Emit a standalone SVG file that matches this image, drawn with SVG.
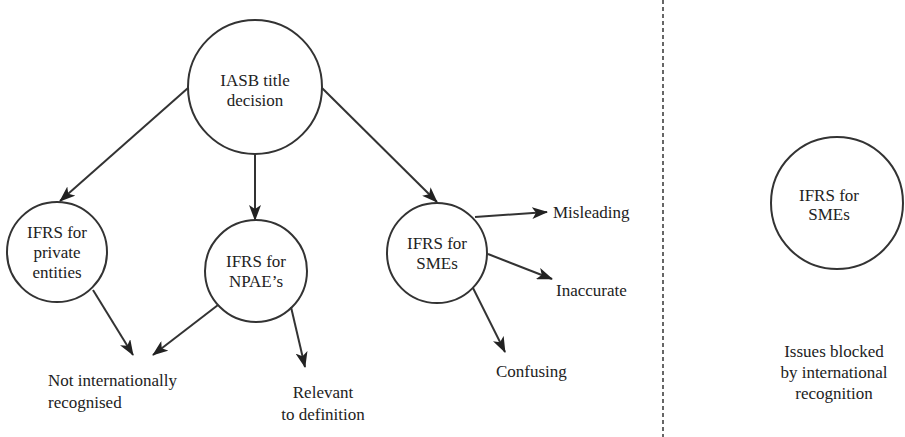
<svg xmlns="http://www.w3.org/2000/svg" width="905" height="437" viewBox="0 0 905 437">
<defs>
<style>
.n{fill:none;stroke:#333;stroke-width:2}
.t{font-family:'Liberation Serif','DejaVu Serif',serif;font-size:17px;fill:#222}
.c{stroke:#333;stroke-width:2;fill:none}
</style>
<marker id="ah" viewBox="0 0 16 12" refX="15" refY="6" markerWidth="16" markerHeight="12" markerUnits="userSpaceOnUse" orient="auto">
<path d="M0,0 L16,6 L0,12 L4,6 z" fill="#222"/>
</marker>
</defs>
<rect width="905" height="437" fill="#fff"/>
<g id="connectors">
<line class="c" x1="188" y1="88" x2="60" y2="201" marker-end="url(#ah)"/>
<line class="c" x1="255" y1="154" x2="255" y2="220" marker-end="url(#ah)"/>
<line class="c" x1="322" y1="88" x2="437" y2="202" marker-end="url(#ah)"/>
<line class="c" x1="93" y1="290" x2="133" y2="355" marker-end="url(#ah)"/>
<line class="c" x1="218" y1="305" x2="153" y2="355" marker-end="url(#ah)"/>
<line class="c" x1="291" y1="307" x2="305" y2="367" marker-end="url(#ah)"/>
<line class="c" x1="475" y1="217" x2="547" y2="212" marker-end="url(#ah)"/>
<line class="c" x1="488" y1="254" x2="552" y2="279" marker-end="url(#ah)"/>
<line class="c" x1="473" y1="288" x2="505" y2="352" marker-end="url(#ah)"/>
<line x1="663" y1="0" x2="663" y2="437" stroke="#666" stroke-width="2" stroke-dasharray="4,3"/>
</g>
<g id="iasb">
<circle class="n" cx="255" cy="87" r="67"/>
<text class="t" text-anchor="middle"><tspan x="255" y="86">IASB title</tspan><tspan x="255" y="106">decision</tspan></text>
</g>
<g id="private">
<circle class="n" cx="57" cy="252" r="50"/>
<text class="t" text-anchor="middle"><tspan x="57" y="238">IFRS for</tspan><tspan x="57" y="258">private</tspan><tspan x="57" y="278">entities</tspan></text>
</g>
<g id="npae">
<circle class="n" cx="256" cy="271" r="51"/>
<text class="t" text-anchor="middle"><tspan x="256" y="267">IFRS for</tspan><tspan x="256" y="287">NPAE’s</tspan></text>
</g>
<g id="smes">
<circle class="n" cx="437" cy="253" r="50"/>
<text class="t" text-anchor="middle"><tspan x="437" y="249">IFRS for</tspan><tspan x="437" y="269">SMEs</tspan></text>
</g>
<g id="smes2">
<circle class="n" cx="837" cy="203" r="66"/>
<text class="t" text-anchor="middle"><tspan x="829" y="201">IFRS for</tspan><tspan x="829" y="220">SMEs</tspan></text>
</g>
<g id="notintl">
<text class="t"><tspan x="48" y="386">Not internationally</tspan><tspan x="48" y="408">recognised</tspan></text>
</g>
<g id="relevant">
<text class="t" text-anchor="middle"><tspan x="323" y="398">Relevant</tspan><tspan x="323" y="420">to definition</tspan></text>
</g>
<g id="misleading"><text class="t" x="553" y="218">Misleading</text></g>
<g id="inaccurate"><text class="t" x="556" y="296">Inaccurate</text></g>
<g id="confusing"><text class="t" x="496" y="377">Confusing</text></g>
<g id="issues">
<text class="t" text-anchor="middle"><tspan x="834" y="357">Issues blocked</tspan><tspan x="834" y="378">by international</tspan><tspan x="834" y="399">recognition</tspan></text>
</g>
</svg>
